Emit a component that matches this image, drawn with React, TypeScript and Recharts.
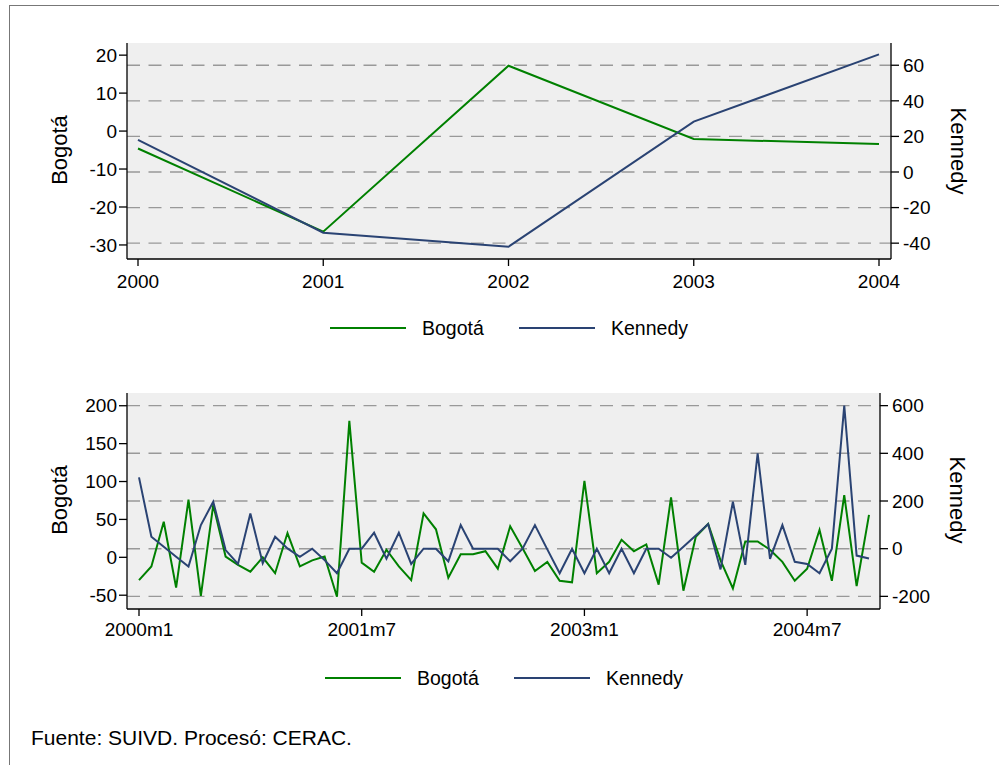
import { LineChart, Line, XAxis, YAxis, CartesianGrid } from "recharts";

// Serie anual
const anios = [2000, 2001, 2002, 2003, 2004];
const bogotaAnual = [-4.6, -26.5, 17.2, -2.1, -3.4];
const kennedyAnual = [18.1, -34.1, -42, 28.3, 66.1];

// Serie mensual 2000m1 - 2004m12
const bogotaMensual = [
  -30, -12, 47, -40, 76, -51, 69, 1, -10, -19, 0, -21,
  32, -12, -4, 1, -52, 180, -7, -19, 10, -12, -30, 58,
  37, -27, 4, 4, 8, -15, 41, 12, -18, -6, -31, -33,
  101, -21, -6, 23, 8, 17, -36, 79, -44, 27, 44, -4,
  -41, 21, 21, 10, -6, -31, -15, 36, -31, 82, -38, 56,
];
const kennedyMensual = [
  299, 50, 8, -34, -75, 99, 197, -6, -64, 148, -61, 50,
  1, -34, 0, -48, -103, 0, 0, 67, -42, 67, -64, 0,
  0, -53, 99, 0, 0, 0, -53, 0, 99, -3, -103, 0,
  -103, 0, -103, 0, -103, 0, 0, -38, 8, 55, 103, -87,
  197, -68, 400, -43, 99, -55, -64, -103, 0, 600, -29, -41,
];
const meses = bogotaMensual.map(
  (_, i) => `${2000 + Math.floor(i / 12)}m${(i % 12) + 1}`
);

const ticksMes = [0, 18, 36, 54];
const ticksBogotaAnual = [-30, -20, -10, 0, 10, 20];
const ticksKennedyAnual = [-40, -20, 0, 20, 40, 60];
const ticksBogotaMensual = [-50, 0, 50, 100, 150, 200];
const ticksKennedyMensual = [-200, 0, 200, 400, 600];

const VERDE = "#008000";
const AZUL = "#2a4373";
const FONT = "'Liberation Sans', Arial, sans-serif";

const datosAnual = anios.map((a, i) => ({
  anio: a,
  bogota: bogotaAnual[i],
  kennedy: kennedyAnual[i],
}));
const datosMensual = meses.map((m, i) => ({
  idx: i,
  mes: m,
  bogota: bogotaMensual[i],
  kennedy: kennedyMensual[i],
}));

const tick = { fontSize: 19, fill: "#000", fontFamily: FONT };
const negro = { stroke: "#000", strokeWidth: 1.3 };

function TituloEje({ x, y, texto, angulo }: { x: number; y: number; texto: string; angulo: number }) {
  return (
    <div
      style={{
        position: "absolute",
        left: x,
        top: y,
        transform: `translate(-50%, -50%) rotate(${angulo}deg)`,
        fontFamily: FONT,
        fontSize: 22,
        whiteSpace: "nowrap",
        lineHeight: "22px",
      }}
    >
      {texto}
    </div>
  );
}

function Leyenda({ x, y }: { x: number; y: number }) {
  const items = [
    { nombre: "Bogotá", color: VERDE, dx: 0, tx: 92 },
    { nombre: "Kennedy", color: AZUL, dx: 189, tx: 281 },
  ];
  return (
    <>
      {items.map((it) => (
        <div key={it.nombre}>
          <div
            style={{
              position: "absolute",
              left: x + it.dx,
              top: y - 1,
              width: 76,
              height: 2,
              background: it.color,
            }}
          />
          <div
            style={{
              position: "absolute",
              left: x + it.tx,
              top: y - 9,
              fontFamily: FONT,
              fontSize: 19.5,
              lineHeight: "19.5px",
              whiteSpace: "nowrap",
            }}
          >
            {it.nombre}
          </div>
        </div>
      ))}
    </>
  );
}

export default function App() {
  return (
    <div
      style={{
        position: "absolute",
        left: 0,
        top: 0,
        width: 999,
        height: 765,
        overflow: "hidden",
        background: "#fff",
      }}
    >
      {/* marco */}
      <div
        style={{
          position: "absolute",
          left: 9,
          top: 5,
          width: 1100,
          height: 900,
          borderLeft: "1.5px solid #777",
          borderTop: "1.5px solid #777",
        }}
      />

      <div style={{ position: "absolute", left: 0, top: 0 }}>
        <LineChart
          width={999}
          height={300}
          data={datosAnual}
          margin={{ top: 43, right: 38, left: 57, bottom: 11 }}
        >
          <CartesianGrid
            yAxisId="der"
            vertical={false}
            syncWithTicks
            fill="#efefef"
            stroke="#999"
            strokeWidth={1.4}
            strokeDasharray="13 8.5"
          />
          <XAxis
            dataKey="anio"
            height={30}
            padding={{ left: 11, right: 12 }}
            tick={tick}
            tickSize={7}
            tickMargin={9}
            tickLine={negro}
            axisLine={negro}
          />
          <XAxis
            xAxisId="arriba"
            orientation="top"
            dataKey="anio"
            height={0}
            tick={false}
            tickLine={false}
            axisLine={{ stroke: "#c8c8c8" }}
          />
          <YAxis
            yAxisId="izq"
            width={70}
            domain={[-33.7, 23.2]}
            ticks={ticksBogotaAnual}
            allowDataOverflow
            tick={tick}
            tickSize={8}
            tickMargin={2}
            tickLine={negro}
            axisLine={negro}
          />
          <YAxis
            yAxisId="der"
            orientation="right"
            width={70}
            domain={[-48.9, 72.5]}
            ticks={ticksKennedyAnual}
            allowDataOverflow
            tick={tick}
            tickSize={8}
            tickMargin={4}
            tickLine={negro}
            axisLine={negro}
          />
          <Line
            yAxisId="izq"
            dataKey="bogota"
            stroke={VERDE}
            strokeWidth={2}
            dot={false}
            isAnimationActive={false}
          />
          <Line
            yAxisId="der"
            dataKey="kennedy"
            stroke={AZUL}
            strokeWidth={2}
            dot={false}
            isAnimationActive={false}
          />
        </LineChart>
      </div>

      <div style={{ position: "absolute", left: 0, top: 350 }}>
        <LineChart
          width={999}
          height={300}
          data={datosMensual}
          margin={{ top: 43, right: 49, left: 57, bottom: 11 }}
        >
          <CartesianGrid
            yAxisId="der"
            vertical={false}
            syncWithTicks
            fill="#efefef"
            stroke="#999"
            strokeWidth={1.4}
            strokeDasharray="13 8.5"
          />
          <XAxis
            dataKey="idx"
            type="number"
            domain={[0, 59]}
            ticks={ticksMes}
            tickFormatter={(v) => meses[v]}
            height={30}
            padding={{ left: 12, right: 11 }}
            tick={tick}
            tickSize={7}
            tickMargin={7}
            tickLine={negro}
            axisLine={negro}
          />
          <XAxis
            xAxisId="arriba"
            orientation="top"
            dataKey="idx"
            type="number"
            domain={[0, 59]}
            height={0}
            tick={false}
            tickLine={false}
            axisLine={{ stroke: "#c8c8c8" }}
          />
          <YAxis
            yAxisId="izq"
            width={70}
            domain={[-68.2, 216.8]}
            ticks={ticksBogotaMensual}
            allowDataOverflow
            tick={tick}
            tickSize={8}
            tickMargin={2}
            tickLine={negro}
            axisLine={negro}
          />
          <YAxis
            yAxisId="der"
            orientation="right"
            width={70}
            domain={[-253, 653]}
            ticks={ticksKennedyMensual}
            allowDataOverflow
            tick={tick}
            tickSize={8}
            tickMargin={4}
            tickLine={negro}
            axisLine={negro}
          />
          <Line
            yAxisId="izq"
            dataKey="bogota"
            stroke={VERDE}
            strokeWidth={2}
            dot={false}
            isAnimationActive={false}
          />
          <Line
            yAxisId="der"
            dataKey="kennedy"
            stroke={AZUL}
            strokeWidth={2}
            dot={false}
            isAnimationActive={false}
          />
        </LineChart>
      </div>

      <TituloEje x={60} y={150} texto="Bogotá" angulo={-90} />
      <TituloEje x={958} y={151} texto="Kennedy" angulo={90} />
      <TituloEje x={60} y={500} texto="Bogotá" angulo={-90} />
      <TituloEje x={957} y={500} texto="Kennedy" angulo={90} />

      <Leyenda x={330} y={328} />
      <Leyenda x={325} y={678} />

      <div
        style={{
          position: "absolute",
          left: 31,
          top: 727,
          fontFamily: FONT,
          fontSize: 21,
          lineHeight: "21px",
          whiteSpace: "nowrap",
        }}
      >
        Fuente: SUIVD. Procesó: CERAC.
      </div>
    </div>
  );
}
